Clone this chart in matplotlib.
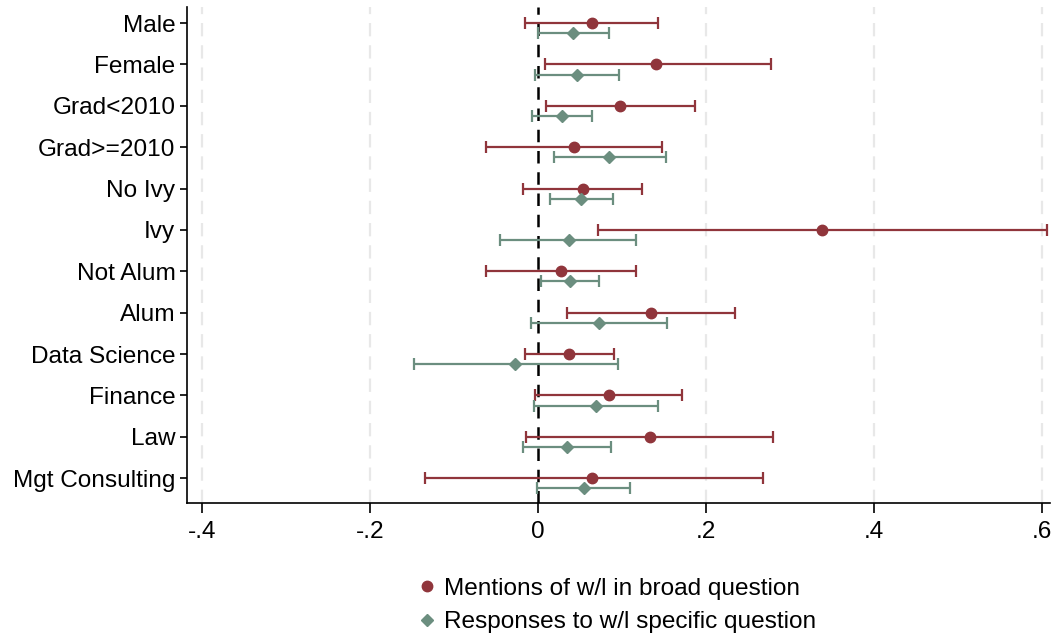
import matplotlib
matplotlib.use("Agg")
import matplotlib.pyplot as plt
from matplotlib.lines import Line2D
import numpy as np

plt.rcParams['font.family'] = ['Liberation Sans', 'DejaVu Sans']

categories = ["Male", "Female", "Grad<2010", "Grad>=2010", "No Ivy", "Ivy",
              "Not Alum", "Alum", "Data Science", "Finance", "Law", "Mgt Consulting"]

broad_est = [0.064, 0.140, 0.098, 0.043, 0.053, 0.338, 0.027, 0.135, 0.037, 0.084, 0.133, 0.064]
broad_lo = [-0.015, 0.008, 0.010, -0.062, -0.018, 0.071, -0.062, 0.035, -0.016, -0.004, -0.014, -0.135]
broad_hi = [0.143, 0.277, 0.187, 0.147, 0.124, 0.606, 0.117, 0.235, 0.090, 0.171, 0.280, 0.268]

spec_est = [0.041, 0.046, 0.028, 0.085, 0.051, 0.037, 0.038, 0.072, -0.027, 0.069, 0.034, 0.055]
spec_lo = [0.000, -0.004, -0.007, 0.019, 0.014, -0.045, 0.003, -0.009, -0.148, -0.005, -0.018, -0.001]
spec_hi = [0.084, 0.096, 0.064, 0.152, 0.089, 0.117, 0.073, 0.154, 0.095, 0.143, 0.087, 0.110]

xticks = [-0.4, -0.2, 0, 0.2, 0.4, 0.6]
xticklabels = ["-.4", "-.2", "0", ".2", ".4", ".6"]

red = "#90353B"
green = "#6B8E7F"

fig = plt.figure(figsize=(10.63, 6.38), dpi=100)
ax = fig.add_axes([0.1755, 0.2116, 0.9878 - 0.1755, 0.989 - 0.2116])

pos = np.arange(len(categories))
off = 0.245

be = np.array(broad_est); bl = np.array(broad_lo); bh = np.array(broad_hi)
se = np.array(spec_est); sl = np.array(spec_lo); sh = np.array(spec_hi)

for v in xticks:
    if v != 0:
        ax.axvline(v, color="#e8e8e8", lw=1.6, ls=(0, (6, 4)), zorder=0)
ax.axvline(0, color="black", lw=1.8, ls=(0, (5, 3.5)), zorder=1)

ax.errorbar(be, pos, xerr=[be - bl, bh - be], fmt='o', color=red, ms=7.5,
            ecolor=red, elinewidth=1.6, capsize=4, capthick=1.6, zorder=3)
ax.errorbar(se, pos + off, xerr=[se - sl, sh - se], fmt='D', color=green, ms=6.3,
            ecolor=green, elinewidth=1.6, capsize=4, capthick=1.6, zorder=3)

ax.set_xlim(-0.4185, 0.6095)
ax.set_ylim(11.6, -0.387)
ax.set_yticks(pos)
ax.set_yticklabels(categories, fontsize=17.6)
ax.set_xticks(xticks)
ax.set_xticklabels(xticklabels, fontsize=17.6)
ax.tick_params(axis='y', length=5, width=1.2, pad=3)
ax.tick_params(axis='x', length=7, width=1.2, pad=6)
for s in ["top", "right"]:
    ax.spines[s].set_visible(False)
for s in ["left", "bottom"]:
    ax.spines[s].set_linewidth(1.2)

handles = [Line2D([], [], marker='o', color=red, ls='none', ms=7.5),
           Line2D([], [], marker='D', color=green, ls='none', ms=6.3)]
fig.legend(handles, ["Mentions of w/l in broad question", "Responses to w/l specific question"],
           loc="center", bbox_to_anchor=(0.580, 0.051), frameon=False, fontsize=17.6,
           handlelength=0.8, handletextpad=0.3, labelspacing=0.45)

fig.savefig("out.png", dpi=100)
